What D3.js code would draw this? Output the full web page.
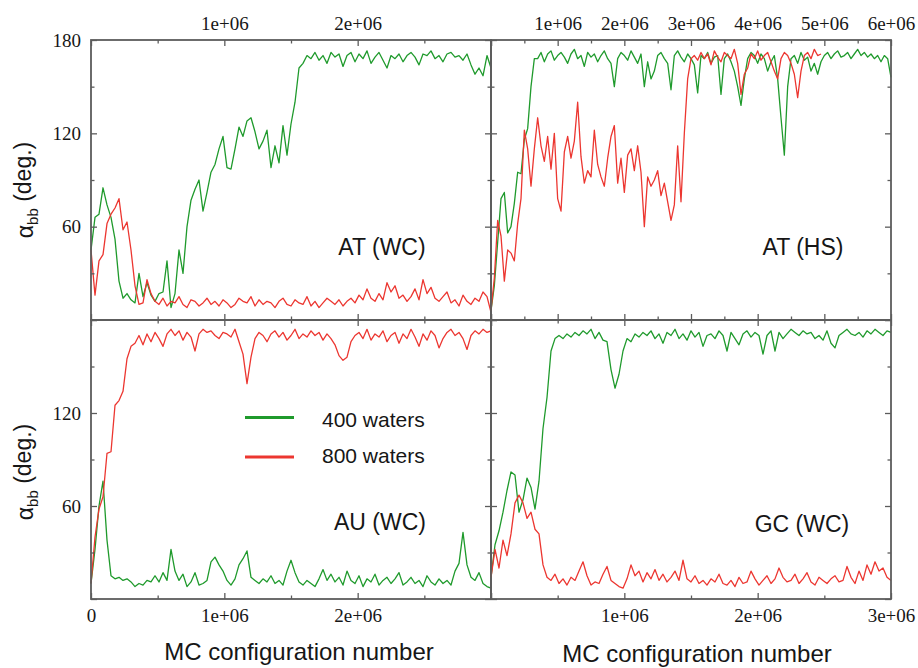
<!DOCTYPE html>
<html><head><meta charset="utf-8">
<script src="https://cdn.jsdelivr.net/npm/d3@7"></script>
<style>body{margin:0;background:#fff}svg{display:block}</style>
</head><body><svg id="c" width="918" height="668"></svg>
<script>
// ---------------- data ----------------
const step3M = 30000;   // MC configurations between samples, 3e6-long runs
const step6M = 50000;   // MC configurations between samples, 6e6-long run
const seriesNames = ["400 waters", "800 waters"];
const panelLabels = ["AT (WC)", "AT (HS)", "AU (WC)", "GC (WC)"];
const xTitle = "MC configuration number";
const yTicks = [0, 60, 120, 180];
const yMinor = [30, 90, 150];
const xTicks3M = [0, 1e6, 2e6, 3e6];
const xMinor3M = [5e5, 1.5e6, 2.5e6];
const xTicks6M = [0, 1e6, 2e6, 3e6, 4e6, 5e6, 6e6];
const xMinor6M = [5e5, 1.5e6, 2.5e6, 3.5e6, 4.5e6, 5.5e6];

// AT (WC)
const atWC400 = [45,66,68,85,74,66,52,25,14,17, 13,11,30,15,24,16,12,17,18,38,
  8,17,45,30,60,77,84,90,70,82, 95,100,110,118,98,97,110,124,118,128,
  130,121,110,115,122,98,112,101,125,106, 126,140,162,
  165,170,168,172,167,170,165,172,169,171, 163,170,172,166,171,168,173,165,169,172,
  167,162,170,168,171,166,170,172,169,164, 171,170,173,168,170,166,171,172,169,170,
  167,171,164,158,162,157,170,162];
const atWC800 = [45,16,38,42,62,68,72,78,58,63,45,22,10,11,26,17,12,
  10,14,9,12,11,15,10,8,13,12,9,11,14,10,
  12,9,13,11,8,10,14,12,11,15,9,13,10,12,11,
  8,12,14,10,9,13,11,10,15,9,12,8,11,14,12,
  10,13,9,12,14,11,16,13,20,14,12,17,13,24,18,
  22,14,16,12,15,20,13,26,17,21,14,12,15,18,11,
  13,9,16,12,10,14,12,18,15,5];
// AT (HS)
const atHS400 = [6,22,50,78,82,56,60,75,95,94,116,123,150,168,
  168,172,166,171,173,167,170,
  172,169,165,171,174,168,170,163,172,169,
  171,166,170,173,168,165,150,168,172,170,
  167,173,169,165,171,150,166,155,160,170,
  172,168,165,148,170,173,169,166,171,168,
  164,146,170,168,172,165,169,170,145,168,
  171,166,160,150,138,155,168,172,170,165,
  171,168,160,166,170,155,130,106,150,168,
  170,165,172,167,169,160,165,158,166,170,
  172,168,171,173,169,170,172,168,171,174,
  170,172,169,171,168,170,166,170,168,156];
const atHS800 = [6,27,64,54,25,45,43,38,62,78,
  122,110,86,110,130,112,102,118,97,120,
  78,70,108,118,104,115,140,105,88,96,
  92,122,100,92,86,104,118,125,88,104,
  82,106,110,96,112,95,60,92,86,90,
  96,80,88,76,64,74,112,76,120,155,
  168,
  170,167,172,168,171,164,173,169,166,172,
  170,168,174,165,145,158,162,171,168,173,
  167,170,172,166,160,155,168,172,170,165,
  158,143,160,170,172,168,174,170,171];
// AU (WC)
const auWC400 = [10,32,60,76,38,15,13,14,12,13, 11,8,10,9,12,11,15,11,17,12,
  32,18,12,16,8,11,17,9,10,12, 24,27,22,18,12,9,13,22,26,31,
  14,12,10,13,11,15,10,12,9,18, 25,17,11,9,12,10,8,13,19,12,
  16,11,14,9,18,12,10,15,8,13, 11,16,9,12,14,10,13,17,9,11,
  14,10,12,8,15,11,9,13,10,12, 9,18,23,43,22,14,12,17,10,8,7];
const auWC800 = [10,40,58,66,94,95,125,128,134,155,163,165,170,164,171,166,172,168,163,171,
  174,170,173,167,172,169,160,171,174,172,
  173,170,168,172,171,169,174,166,158,139,
  156,168,172,170,166,171,173,169,172,167,
  170,174,168,171,169,173,170,172,167,171,
  168,164,157,154,156,166,170,172,168,174,
  167,171,169,173,166,170,172,165,171,168,
  174,169,163,171,167,173,170,162,168,172,
  174,170,172,168,161,170,173,171,174,172,173];
// GC (WC)
const gcWC400 = [14,35,44,56,70,82,80,56,64,78,72,58,76,110,130,160,168,170,168,171,
  169,172,170,173,171,174,168,172,167,166,148,136,145,160,168,166,171,169,
  172,170,173,168,171,165,172,170,174,168,
  171,167,173,169,172,163,170,171,168,173,
  170,160,172,168,164,171,173,169,172,170,
  158,170,173,160,172,168,171,174,172,170,
  173,171,172,168,170,167,173,165,162,170,
  172,174,171,170,172,169,173,171,174,172,170,173,172];
const gcWC800 = [14,32,20,38,28,42,62,67,62,52,56,45,42,22,14,12,16,10,13,9,
  14,12,18,24,15,9,11,10,16,21,12,10,8,7,13,22,15,18,11,17,
  13,19,12,16,11,14,18,12,25,13,
  11,15,10,12,9,13,11,16,10,9,
  12,8,14,10,11,18,13,9,12,15,
  10,13,20,14,11,12,16,10,13,17,
  11,9,14,12,10,13,15,11,12,21,
  14,10,18,12,22,16,24,18,20,14,12];

// ---------------- drawing ----------------
const GREEN = "#1f9a2c", RED = "#ec3630", FRAME = "#5c5c5c", INK = "#161616";
const svg = d3.select("#c");
const cols = [[91, 491], [491, 891]];
const rows = [[40, 320], [320, 599]];
const fmt = d => d === 0 ? "0" : (d / 1e6) + "e+06";

const panels = [
  {label: panelLabels[0], s: [atWC400, atWC800], step: step3M, xMax: 3e6, xt: xTicks3M, xm: xMinor3M,
   col: 0, row: 0, top: [1e6, 2e6], bottom: [], left: [60, 120, 180], lx: 382, ly: 255},
  {label: panelLabels[1], s: [atHS400, atHS800], step: step6M, xMax: 6e6, xt: xTicks6M, xm: xMinor6M,
   col: 1, row: 0, top: [1e6, 2e6, 3e6, 4e6, 5e6, 6e6], bottom: [], left: [], lx: 803, ly: 255},
  {label: panelLabels[2], s: [auWC400, auWC800], step: step3M, xMax: 3e6, xt: xTicks3M, xm: xMinor3M,
   col: 0, row: 1, top: [], bottom: [0, 1e6, 2e6], left: [60, 120], lx: 380, ly: 530},
  {label: panelLabels[3], s: [gcWC400, gcWC800], step: step3M, xMax: 3e6, xt: xTicks3M, xm: xMinor3M,
   col: 1, row: 1, top: [], bottom: [1e6, 2e6, 3e6], left: [], lx: 802, ly: 532}
];

function styleAxis(sel) {
  sel.select(".domain").remove();
  sel.selectAll(".tick line").attr("stroke", FRAME).attr("stroke-width", 1.3);
  sel.selectAll(".tick text").attr("fill", INK)
    .attr("font-family", "'Liberation Serif','DejaVu Serif',serif").attr("font-size", 19);
}

panels.forEach(p => {
  const [x0, x1] = cols[p.col], [y0, y1] = rows[p.row];
  const x = d3.scaleLinear().domain([0, p.xMax]).range([x0, x1]);
  const y = d3.scaleLinear().domain([0, 180]).range([y1, y0]);
  const g = svg.append("g");

  const line = d3.line().x((d, i) => x(i * p.step)).y(d => y(d));
  [GREEN, RED].forEach((c, k) => {
    g.append("path").datum(p.s[k]).attr("d", line).attr("fill", "none")
      .attr("stroke", c).attr("stroke-width", 1.3).attr("stroke-linejoin", "round");
  });

  const lab = arr => d => arr.includes(d) ? fmt(d) : "";
  g.append("g").attr("transform", `translate(0,${y0})`)
    .call(d3.axisTop(x).tickValues(p.xt).tickSizeInner(-6).tickSizeOuter(0).tickPadding(10).tickFormat(lab(p.top))).call(styleAxis);
  g.append("g").attr("transform", `translate(0,${y1})`)
    .call(d3.axisBottom(x).tickValues(p.xt).tickSizeInner(-6).tickSizeOuter(0).tickPadding(10).tickFormat(lab(p.bottom))).call(styleAxis);
  g.append("g").attr("transform", `translate(${x0},0)`)
    .call(d3.axisLeft(y).tickValues(yTicks).tickSizeInner(-6).tickSizeOuter(0).tickPadding(10)
      .tickFormat(d => p.left.includes(d) ? d : "")).call(styleAxis);
  g.append("g").attr("transform", `translate(${x1},0)`)
    .call(d3.axisRight(y).tickValues(yTicks).tickSizeInner(-6).tickSizeOuter(0).tickFormat("")).call(styleAxis);
  g.append("g").attr("transform", `translate(0,${y0})`)
    .call(d3.axisTop(x).tickValues(p.xm).tickSizeInner(-3.5).tickSizeOuter(0).tickFormat("")).call(styleAxis);
  g.append("g").attr("transform", `translate(0,${y1})`)
    .call(d3.axisBottom(x).tickValues(p.xm).tickSizeInner(-3.5).tickSizeOuter(0).tickFormat("")).call(styleAxis);
  g.append("g").attr("transform", `translate(${x0},0)`)
    .call(d3.axisLeft(y).tickValues(yMinor).tickSizeInner(-3.5).tickSizeOuter(0).tickFormat("")).call(styleAxis);
  g.append("g").attr("transform", `translate(${x1},0)`)
    .call(d3.axisRight(y).tickValues(yMinor).tickSizeInner(-3.5).tickSizeOuter(0).tickFormat("")).call(styleAxis);

  g.append("rect").attr("x", x0).attr("y", y0).attr("width", x1 - x0).attr("height", y1 - y0)
    .attr("fill", "none").attr("stroke", FRAME).attr("stroke-width", 1.8);

  g.append("text").attr("x", p.lx).attr("y", p.ly).attr("text-anchor", "middle")
    .attr("font-family", "'Liberation Sans',Arial,sans-serif").attr("font-size", 23).attr("fill", INK)
    .text(p.label);
});

[190, 472].forEach(cy => {
  const t = svg.append("text").attr("transform", `translate(33,${cy}) rotate(-90)`)
    .attr("text-anchor", "middle").attr("font-family", "'Liberation Sans',Arial,sans-serif")
    .attr("font-size", 23).attr("fill", INK);
  t.append("tspan").text("α");
  t.append("tspan").attr("font-size", 15).attr("dy", "0.3em").text("bb");
  t.append("tspan").attr("dy", "-0.3em").text(" (deg.)");
});

[[299, 660], [697, 662]].forEach(([cx, by]) => {
  svg.append("text").attr("x", cx).attr("y", by).attr("text-anchor", "middle")
    .attr("font-family", "'Liberation Sans',Arial,sans-serif").attr("font-size", 24).attr("fill", INK)
    .text(xTitle);
});

[[GREEN, 417.5, 427], [RED, 457, 463]].forEach(([c, ly, ty], k) => {
  svg.append("line").attr("x1", 245).attr("x2", 294).attr("y1", ly).attr("y2", ly)
    .attr("stroke", c).attr("stroke-width", 2.8);
  svg.append("text").attr("x", 322).attr("y", ty)
    .attr("font-family", "'Liberation Sans',Arial,sans-serif").attr("font-size", 21).attr("fill", INK)
    .text(seriesNames[k]);
});
</script></body></html>
